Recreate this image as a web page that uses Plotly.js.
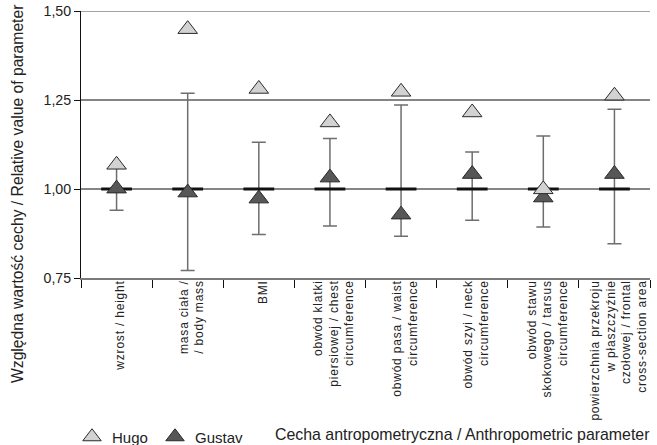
<!DOCTYPE html>
<html>
<head>
<meta charset="utf-8">
<script src="https://cdn.plot.ly/plotly-3.0.1.min.js"></script>
<style>
  html, body { margin: 0; padding: 0; background: #fff; }
  #chart { width: 657px; height: 445px; }
  .xtick text { letter-spacing: 0.8px; }
</style>
</head>
<body>
<div id="chart"></div>
<script>
// ---- data ----
const categories = [
  "wzrost / height",
  "masa ciała /<br>/ body mass",
  "BMI",
  "obwód klatki<br>piersiowej / chest<br>circumference",
  "obwód pasa / waist<br>circumference",
  "obwód szyi / neck<br>circumference",
  "obwód stawu<br>skokowego / tarsus<br>circumference",
  "powierzchnia przekroju<br>w płaszczyźnie<br>czołowej / frontal<br>cross-section area"
];
const reference = [1, 1, 1, 1, 1, 1, 1, 1];
const rangeUpper = [1.06, 1.269, 1.131, 1.142, 1.236, 1.104, 1.149, 1.224];
const rangeLower = [0.940, 0.771, 0.872, 0.896, 0.867, 0.912, 0.893, 0.846];
const hugo   = [1.068, 1.449, 1.281, 1.187, 1.273, 1.215, 0.999, 1.262];
const gustav = [1.001, 0.990, 0.973, 1.032, 0.928, 1.042, 0.976, 1.042];
const yTickVals = [0.75, 1.00, 1.25, 1.50];
const yTickText = ["0,75", "1,00", "1,25", "1,50"];

const FONT = '"Liberation Sans", Arial, sans-serif';

const plus = rangeUpper.map((u, i) => u - reference[i]);
const minus = rangeLower.map((l, i) => reference[i] - l);

const traces = [
  {
    type: 'scatter', mode: 'markers', x: categories, y: reference,
    showlegend: false, hoverinfo: 'skip',
    marker: { symbol: 'line-ew', size: 22, color: '#111', line: { color: '#111', width: 3 } },
    error_y: { type: 'data', symmetric: false, array: plus, arrayminus: minus,
               color: '#6e6e6e', thickness: 1.5, width: 7 }
  },
  {
    type: 'scatter', mode: 'markers', x: categories, y: gustav, name: 'Gustav', legend: 'legend2',
    marker: { symbol: 'triangle-up', size: 17, color: '#575757', line: { color: '#2a2a2a', width: 1 } }
  },
  {
    type: 'scatter', mode: 'markers', x: categories, y: hugo, name: 'Hugo', legend: 'legend',
    marker: { symbol: 'triangle-up', size: 17, color: '#d2d2d2', line: { color: '#2a2a2a', width: 1 } }
  }
];

// pixel helpers for text placement (plot area: x 81..650, y 11..278)
const L = 81, R = 7, T = 11, B = 167, W = 657, H = 445;
const pw = W - L - R, ph = H - T - B;
const px = v => (v - L) / pw;
const py = v => (H - B - v) / ph;

const legendFont = { family: FONT, size: 15, color: '#222' };

const layout = {
  width: W, height: H,
  margin: { l: L, r: R, t: T, b: B, autoexpand: false },
  paper_bgcolor: '#fff', plot_bgcolor: '#fff',
  font: { family: FONT, color: '#222' },
  xaxis: {
    type: 'category', range: [-0.5, 7.5], tickson: 'boundaries',
    ticks: 'outside', ticklen: 8, tickwidth: 1, tickcolor: '#111',
    showline: true, linecolor: '#7a7a7a', linewidth: 1.5,
    showgrid: false, tickangle: -90, ticklabelshift: 4, ticklabelstandoff: -4,
    tickfont: { family: FONT, size: 12, color: '#222' }
  },
  yaxis: {
    range: [0.75, 1.5], tickvals: yTickVals, ticktext: yTickText,
    ticks: 'outside', ticklen: 6, tickcolor: '#111', tickwidth: 1,
    showline: true, linecolor: '#111', linewidth: 1,
    showgrid: true, gridcolor: '#858585', gridwidth: 1.5,
    zeroline: false,
    tickfont: { family: FONT, size: 14.2, color: '#222' }
  },
  shapes: [
    { type: 'line', xref: 'paper', yref: 'y', x0: 0, x1: 1, y0: yTickVals[3], y1: yTickVals[3],
      line: { color: '#858585', width: 1.5 }, layer: 'below' }
  ],
  legend: {
    orientation: 'h', x: px(72), y: py(437), xanchor: 'left', yanchor: 'middle',
    font: legendFont, bgcolor: 'rgba(0,0,0,0)'
  },
  legend2: {
    orientation: 'h', x: px(155), y: py(437), xanchor: 'left', yanchor: 'middle',
    font: legendFont, bgcolor: 'rgba(0,0,0,0)'
  },
  annotations: [
    { xref: 'paper', yref: 'paper', x: px(17), y: py(194), textangle: -90,
      xanchor: 'center', yanchor: 'middle', showarrow: false,
      text: 'Względna wartość cechy / Relative value of parameter',
      font: { family: FONT, size: 15.7, color: '#222' } },
    { xref: 'paper', yref: 'paper', x: px(652), y: py(435), xanchor: 'right', yanchor: 'middle',
      showarrow: false, text: 'Cecha antropometryczna / Anthropometric parameter',
      font: { family: FONT, size: 15.9, color: '#222' } }
  ]
};

Plotly.newPlot('chart', traces, layout, { displayModeBar: false, staticPlot: true });
</script>
</body>
</html>
